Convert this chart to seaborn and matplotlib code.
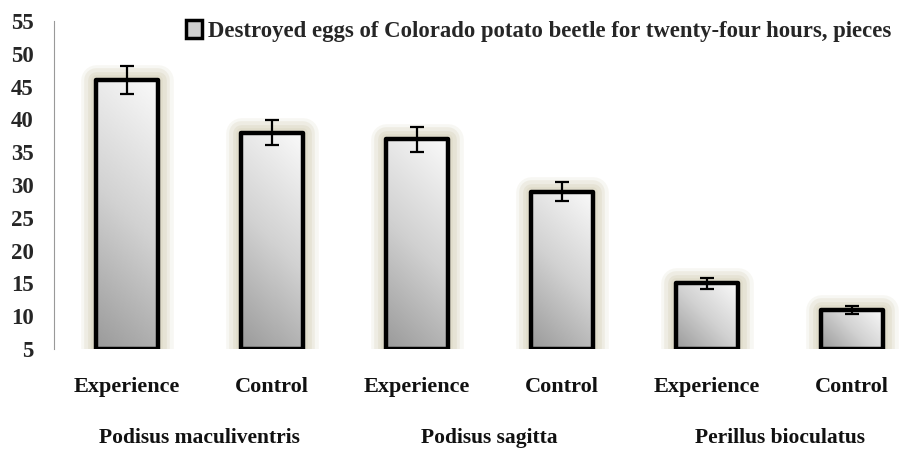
import numpy as np
import pandas as pd
import matplotlib
matplotlib.use("Agg")
import matplotlib.pyplot as plt
import matplotlib.patheffects as pe
from matplotlib.colors import LinearSegmentedColormap
from matplotlib.patches import Rectangle, Patch
from matplotlib.transforms import blended_transform_factory
import seaborn as sns

# data
groups = ["Experience", "Control", "Experience", "Control", "Experience", "Control"]
eggs = [46.0, 38.0, 37.0, 29.0, 15.0, 11.0]
errors = [2.2, 1.9, 1.9, 1.4, 0.8, 0.6]
species = ["Podisus maculiventris", "Podisus sagitta", "Perillus bioculatus"]
legend_label = "Destroyed eggs of Colorado potato beetle for twenty-four hours, pieces"

y_min, y_max = 5, 55

sns.set_style("white")
plt.rcParams["font.family"] = ["Liberation Serif", "DejaVu Serif"]
plt.rcParams["font.weight"] = "bold"

df = pd.DataFrame({"pos": [str(i) for i in range(len(eggs))], "eggs": eggs})

fig = plt.figure(figsize=(9.08, 4.49), dpi=100)
ax = fig.add_axes([0.06, 0.2227, 0.94, 0.7305])

sns.barplot(data=df, x="pos", y="eggs", ax=ax, width=0.43,
            facecolor="none", edgecolor="black", linewidth=3.2, zorder=5)

ax.set_xlim(-0.5, 5.386)
ax.set_ylim(y_min, y_max)

cmap = LinearSegmentedColormap.from_list("bar", ["#9a9a9a", "#d2d2d2", "#fafafa"])
glow_col = "#d8d3bd"
fig.canvas.draw()
for p in ax.patches:
    # bars start at the axis floor (5), as in the original
    p.set_y(y_min)
    p.set_height(p.get_height() - y_min)
    p.set_joinstyle("round")
    x0, y0, w, h = p.get_x(), p.get_y(), p.get_width(), p.get_height()
    # soft glow behind the bar
    glow = Rectangle((x0, y0), w, h, facecolor="none", edgecolor="none", zorder=2)
    glow.set_path_effects([
        pe.Stroke(linewidth=lw, foreground=glow_col, alpha=a, joinstyle="round")
        for lw, a in [(22, 0.18), (17, 0.28), (12, 0.35), (7, 0.35)]
    ])
    ax.add_patch(glow)
    # diagonal gradient in pixel space
    (px0, py0), (px1, py1) = ax.transData.transform([(x0, y0), (x0 + w, y0 + h)])
    wp, hp = px1 - px0, py1 - py0
    u, v = np.meshgrid(np.linspace(0, 1, 60), np.linspace(0, 1, 200))
    t = (u * wp + v * hp) / (wp + hp)
    im = ax.imshow(t, extent=[x0, x0 + w, y0, y0 + h], origin="lower",
                   aspect="auto", cmap=cmap, vmin=0, vmax=1, zorder=4)
    im.set_clip_path(p)

ax.set_xlim(-0.5, 5.386)
ax.set_ylim(y_min, y_max)

ax.errorbar(range(len(eggs)), eggs, yerr=errors, fmt="none", ecolor="black",
            elinewidth=1.6, capsize=5, capthick=1.6, zorder=6)

ax.set_yticks(range(5, 56, 5))
ax.set_xticks(range(len(groups)))
ax.set_xticklabels(groups, fontsize=16, fontweight="bold", color="#111111")
ax.tick_params(axis="x", length=0, pad=20)
ax.tick_params(axis="y", direction="out", length=5, width=0.8, color="#999999",
               labelsize=16.5, pad=10)
for lab in ax.get_yticklabels():
    lab.set_fontweight("bold")
ax.set_xlabel("")
ax.set_ylabel("")

sns.despine(ax=ax, top=True, right=True, bottom=True)
ax.spines["left"].set_color("#999999")
ax.spines["left"].set_linewidth(0.8)

trans = blended_transform_factory(ax.transData, ax.transAxes)
for i, name in enumerate(species):
    ax.text(2 * i + 0.5, -0.24, name, transform=trans, ha="center", va="top",
            fontsize=15.5, fontweight="bold", color="#111111")

handle = Patch(facecolor="#d0d0d0", edgecolor="black", linewidth=2.5)
fig.legend([handle], [legend_label], loc="upper right",
           bbox_to_anchor=(0.997, 0.985), frameon=False,
           handlelength=0.7, handleheight=0.8, handletextpad=0.3,
           borderaxespad=0.2, prop={"weight": "bold", "size": 16.4})

fig.savefig("out.png", dpi=100)
